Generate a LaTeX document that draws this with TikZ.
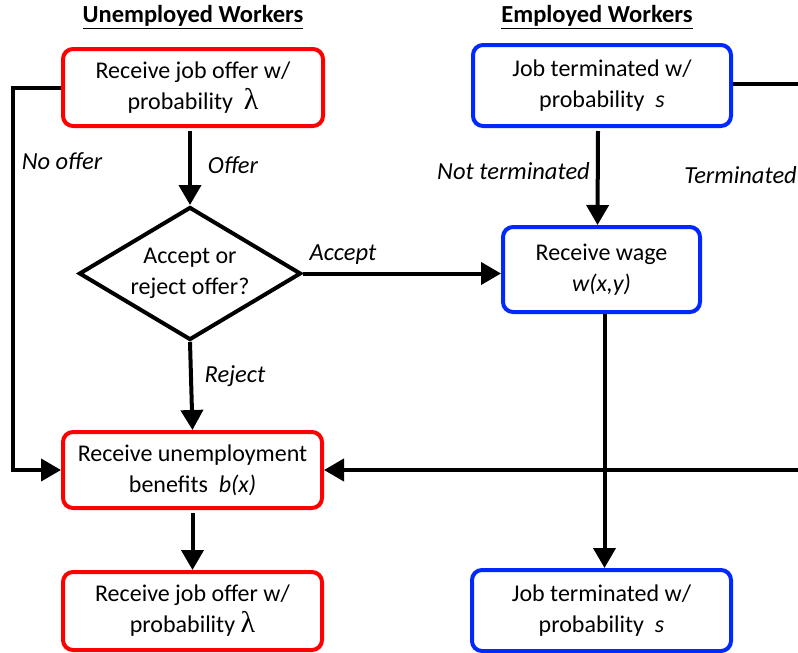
\documentclass[tikz,border=0pt]{standalone}
\usepackage{fontspec}
\setmainfont{Carlito}
\newfontfamily\lamfont{Liberation Serif}
\usetikzlibrary{arrows.meta,shapes.geometric,calc}
\definecolor{ured}{RGB}{255,0,0}
\definecolor{eblue}{RGB}{0,40,255}
\newcommand{\lam}{{\lamfont\fontsize{30}{31}\selectfont λ}}
\begin{document}
\begin{tikzpicture}[x=1pt,y=-1pt,
  txt/.style={font=\fontsize{24}{31}\selectfont, align=center, inner sep=0pt},
  ubox/.style={txt, draw=ured, line width=4pt, rounded corners=10pt},
  ebox/.style={txt, draw=eblue, line width=4pt, rounded corners=10pt},
  lbl/.style={font=\fontsize{24.5}{28}\selectfont\itshape, inner sep=0pt},
  ttl/.style={font=\fontsize{24.5}{28}\selectfont\bfseries, inner sep=0pt},
  conn/.style={line width=4pt},
  arr/.style={conn, -{Triangle[length=20pt,width=22pt]}}]
\useasboundingbox (0,0) rectangle (798,653);
% titles
\node[ttl] (t1) at (193,17) {\underline{Unemployed Workers}};
\node[ttl] (t2) at (597,17) {\underline{Employed Workers}};
% boxes
\node[ubox, minimum width=260pt, minimum height=77pt] (U1) at (193,87.5) {Receive job offer w/\\probability~~\lam};
\node[ebox, minimum width=258pt, minimum height=81pt] (E1) at (602,85.5) {Job terminated w/\\probability~~\textit{s}};
\node[ebox, minimum width=197pt, minimum height=85pt] (E2) at (601.5,269.5) {Receive wage\\\textit{w(x,y)}};
\node[txt, diamond, draw, line width=4pt, aspect=1.65, minimum width=222pt, minimum height=133pt] (D) at (190,273.5) {Accept or\\reject offer?};
\node[ubox, minimum width=259pt, minimum height=76pt] (U2) at (192.5,470) {Receive unemployment\\benefits~~\textit{b(x)}};
\node[ubox, minimum width=259pt, minimum height=78pt] (U3) at (192.5,611) {Receive job offer w/\\probability~\lam};
\node[ebox, minimum width=259pt, minimum height=81pt] (E3) at (601.5,610.5) {Job terminated w/\\probability~~\textit{s}};
% free ends
\coordinate (L) at (13,88);
\coordinate (R1) at (800,84);
\coordinate (R2) at (800,470);
% connectors
\draw[arr] (U1.west |- L) -- (L) |- (U2.west);
\draw[arr] ($(D.north |- U1.south)+(0,3)$) -- (D.north);
\draw[arr] (D.east) -- (D.east -| E2.west);
\draw[arr] (D.south) -- (U2.north);
\draw[arr] (R2) -- (U2.east);
\draw[arr] ($(U2.south)+(0,3)$) -- (U3.north);
\draw[conn] (E1.east |- R1) -- (R1);
\draw[arr] ($(E1.south)+(-4,3)$) -- ($(E2.north)+(-4,0)$);
\draw[arr] ($(E2.south)+(3,0)$) -- ($(E3.north)+(3,0)$);
% labels
\node[lbl] (l1) at (62,161) {No offer};
\node[lbl] (l2) at (233,165) {Offer};
\node[lbl] (l3) at (343,255) {Accept};
\node[lbl] (l4) at (235,376) {Reject};
\node[lbl, anchor=east] (l5) at (590,171) {Not terminated};
\node[lbl, anchor=east] (l6) at (797,175) {Terminated};
\end{tikzpicture}
\end{document}
